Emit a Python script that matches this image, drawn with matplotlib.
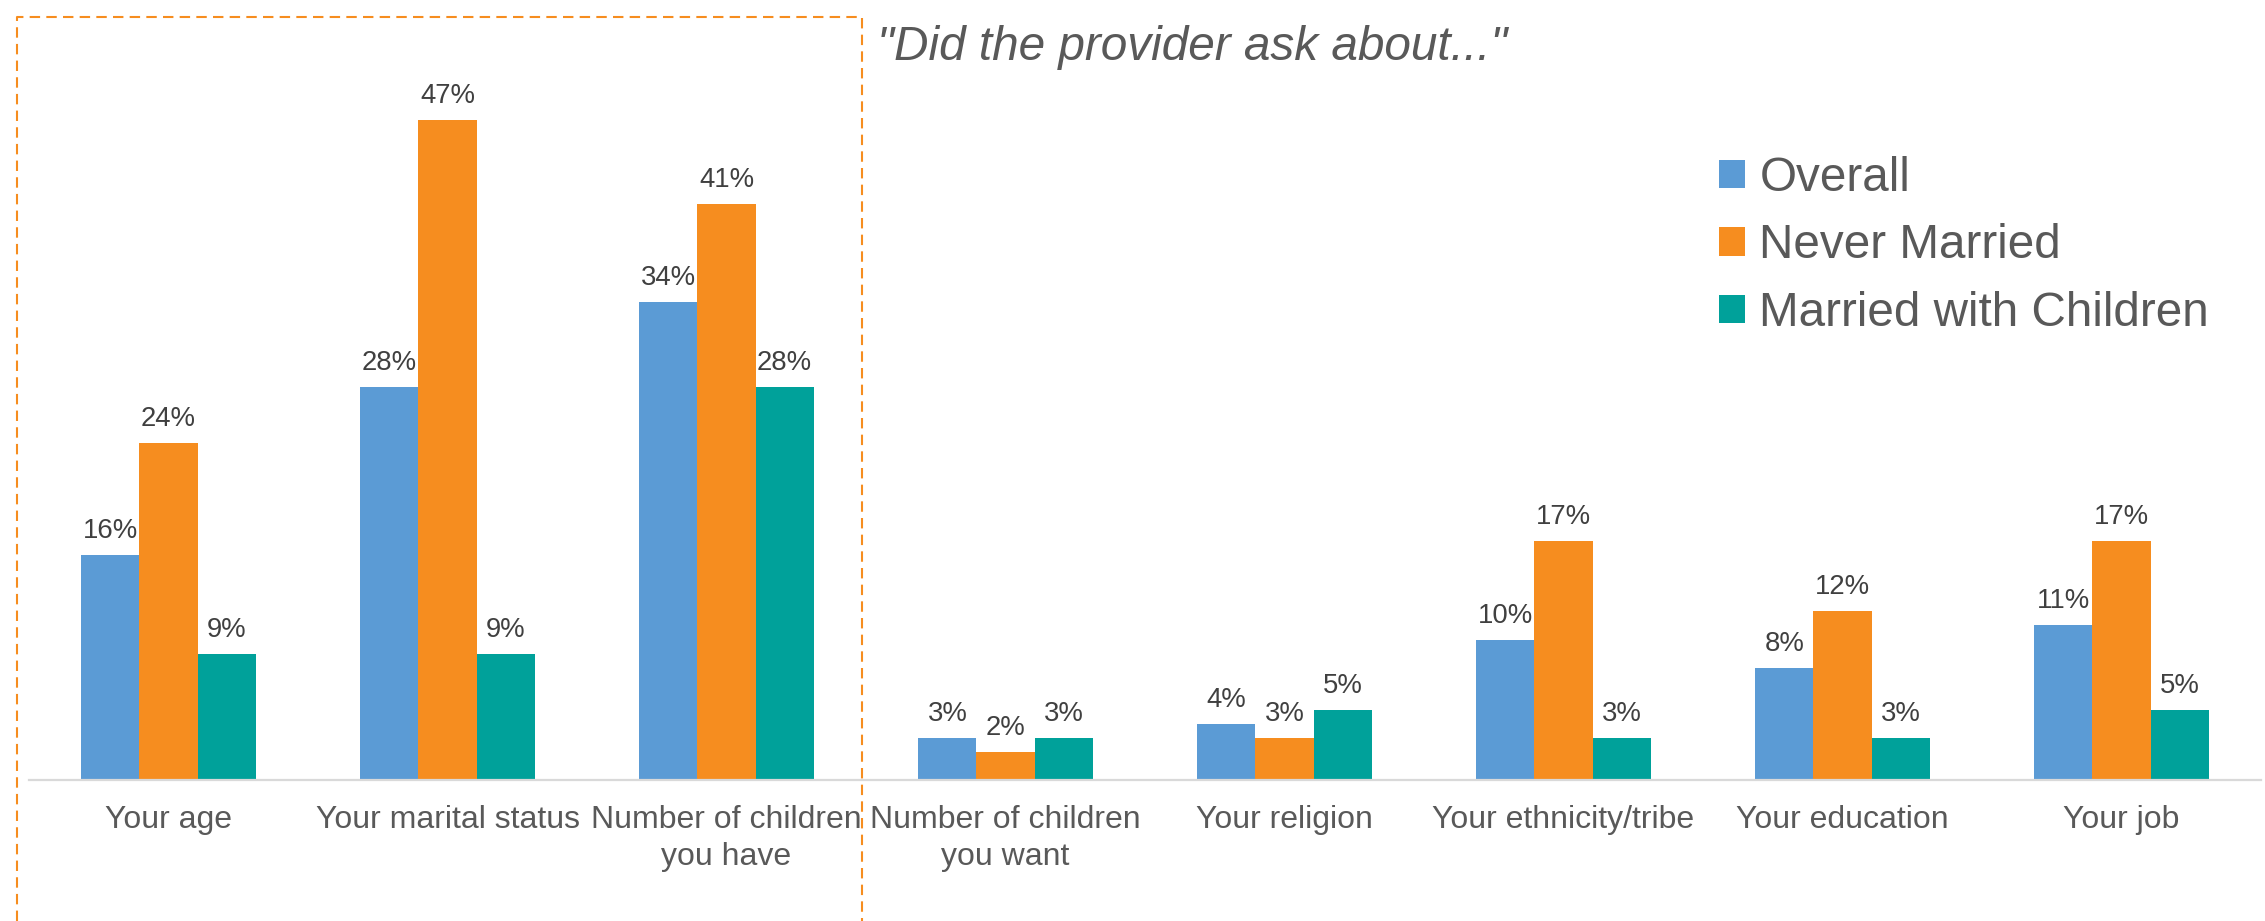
import numpy as np
import matplotlib.pyplot as plt
from matplotlib.lines import Line2D

plt.rcParams['font.family'] = ['Liberation Sans', 'DejaVu Sans']

categories = ['Your age', 'Your marital status', 'Number of children\nyou have',
              'Number of children\nyou want', 'Your religion', 'Your ethnicity/tribe',
              'Your education', 'Your job']
overall = [16, 28, 34, 3, 4, 10, 8, 11]
never_married = [24, 47, 41, 2, 3, 17, 12, 17]
married_children = [9, 9, 28, 3, 5, 3, 3, 5]

series = [('Overall', overall, '#5B9BD5'),
          ('Never Married', never_married, '#F68D1F'),
          ('Married with Children', married_children, '#00A19A')]

W, H = 2265, 921
fig = plt.figure(figsize=(W / 100, H / 100), dpi=100)
ax = fig.add_axes([29 / W, 1 - 780 / H, (2261 - 29) / W, (780 - 77.5) / H])

x = np.arange(len(categories))
bw = 0.208
for i, (name, vals, col) in enumerate(series):
    bars = ax.bar(x + (i - 1) * bw, vals, bw, color=col, label=name, zorder=2)
    for b, v in zip(bars, vals):
        ax.annotate(f'{v}%', (b.get_x() + b.get_width() / 2, b.get_height()),
                    xytext=(0, 11), textcoords='offset pixels', ha='center', va='bottom',
                    fontsize=19.8, color='#404040')

ax.set_xlim(-0.5, len(categories) - 0.5)
ax.set_ylim(0, 50)
ax.set_xticks(x)
ax.set_xticklabels(categories, fontsize=23, color='#595959', linespacing=1.3)
ax.tick_params(axis='x', length=0, pad=18)
ax.set_yticks([])
for s in ['top', 'right', 'left']:
    ax.spines[s].set_visible(False)
ax.spines['bottom'].set_color('#D9D9D9')
ax.spines['bottom'].set_linewidth(1.6)

leg = ax.legend(loc='upper left', bbox_to_anchor=(1719 / W, 1 - 156 / H),
                bbox_transform=fig.transFigure, frameon=False, fontsize=34.3,
                handlelength=0.55, handleheight=0.55, handletextpad=0.3,
                labelspacing=0.47, borderpad=0, borderaxespad=0)
for t in leg.get_texts():
    t.set_color('#595959')

fig.text(877 / W, 1 - 47 / H, '"Did the provider ask about..."', fontsize=34.4,
         style='italic', color='#595959', ha='left', va='center')

# dashed frame around the first three groups
x0, x1, y0 = 17 / W, 862 / W, 1 - 17 / H
frame = Line2D([x0, x0, x1, x1], [0, y0, y0, 0], transform=fig.transFigure,
               color='#F68D1F', lw=1.5, linestyle=(0, (5, 3)))
fig.add_artist(frame)

fig.savefig('out.png', dpi=100)
